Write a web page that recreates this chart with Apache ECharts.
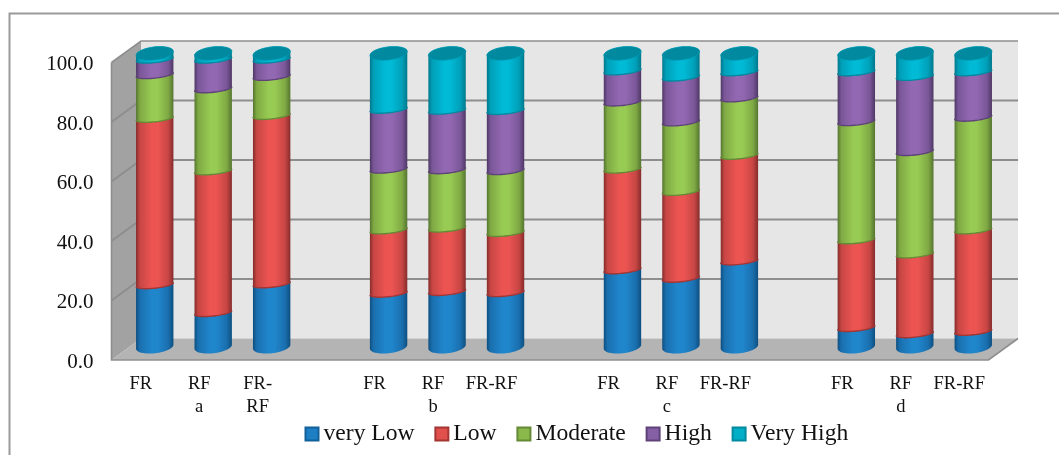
<!DOCTYPE html>
<html><head><meta charset="utf-8">
<style>html,body{margin:0;padding:0;background:#fff}#c{width:1059px;height:455px}</style>
<script src="https://cdn.jsdelivr.net/npm/echarts@6/dist/echarts.min.js"></script>
</head><body><div id="c"></div>
<script>
const categories = ['FR','RF\na','FR-\nRF','','FR','RF\nb','FR-RF','','FR','RF\nc','FR-RF','','FR','RF\nd','FR-RF'];
const veryLow  = [22.2,12.7,22.5,null,19.3,19.9,19.5,null,27.3,24.4,30.3,null,7.6,5.5,6.3];
const low      = [56.7,48.3,57.4,null,21.6,21.6,20.5,null,34.3,29.6,36.0,null,29.9,27.2,34.6];
const moderate = [14.9,28.0,13.3,null,20.7,19.9,21.1,null,22.9,23.7,19.6,null,40.3,34.9,38.4];
const high     = [5.3,10.1,5.9,null,20.4,20.3,20.5,null,10.6,15.3,8.9,null,17.0,25.6,15.5];
const veryHigh = [0.9,0.9,0.9,null,18.0,18.3,18.4,null,4.9,7.0,5.2,null,5.2,6.8,5.2];
const yTicks = [0,20,40,60,80,100];

const layers = [
  {name:'very Low', values:veryLow,  base:'#1f7fc4', light:'#2086cc', mid:'#1a6fae', edge:'#0d4f80', line:'#12609a'},
  {name:'Low',      values:low,      base:'#e2504e', light:'#ec5452', mid:'#c74644', edge:'#852c2b', line:'#a33533'},
  {name:'Moderate', values:moderate, base:'#8ab84a', light:'#98cb53', mid:'#7fa944', edge:'#55752f', line:'#648a36'},
  {name:'High',     values:high,     base:'#8560a5', light:'#9368b3', mid:'#7a5798', edge:'#4f3766', line:'#5e4279'},
  {name:'Very High',values:veryHigh, base:'#00aec8', light:'#00bad6', mid:'#009fb8', edge:'#00788c', line:'#008aa0'}
];

const DEPTH_X = 29.5, DEPTH_Y = 21.5;
const BAR_DX = 14, BAR_DY = 13.3, BAR_SCALE = 0.986;
const RX = 18.7, RY = 6.6, RY_INNER = 3.6, TILT = 2;

function stackAt(layerIdx, i){
  let s = 0;
  for(let k=0;k<layerIdx;k++) s += layers[k].values[i] || 0;
  return s;
}
function arc(cx,cy,ry,from,to,n){
  const pts=[];
  for(let j=0;j<=n;j++){
    const t=from+(to-from)*j/n;
    pts.push([cx+RX*Math.cos(t), cy+ry*Math.sin(t)-TILT*Math.cos(t)]);
  }
  return pts;
}
function barRender(layerIdx){
  const L = layers[layerIdx];
  const isTop = layerIdx===layers.length-1, isBase = layerIdx===0;
  return function(params, api){
    const i = api.value(0), v = L.values[i];
    if(v==null) return null;
    const y0 = api.coord([i,0])[1];
    const mapY = function(val){ return y0 + (api.coord([i,val])[1]-y0)*BAR_SCALE - BAR_DY; };
    const s = stackAt(layerIdx,i);
    const cx = api.coord([i,0])[0] + BAR_DX;
    const yB = mapY(s), yT = mapY(s+v);
    const ryB = isBase ? RY : RY_INNER, ryT = isTop ? RY : RY_INNER;
    const front = arc(cx,yB+RY-ryB,ryB,Math.PI,0,28);
    const back  = arc(cx,yT+RY-ryT,ryT,0,-Math.PI,28);
    const grad = new echarts.graphic.LinearGradient(0,0,1,0,[
      {offset:0,color:L.edge},{offset:.1,color:L.mid},{offset:.42,color:L.light},
      {offset:.58,color:L.light},{offset:.86,color:L.mid},{offset:1,color:L.edge}]);
    const children = [{type:'polygon',shape:{points:front.concat(back)},style:{fill:grad}}];
    if(!isBase) children.push({type:'polyline',shape:{points:front},style:{fill:null,stroke:L.line,lineWidth:1.4}});
    if(isTop) children.push({type:'polygon',shape:{points:arc(cx,yT,RY,0,2*Math.PI,56)},style:{fill:'#00899f',stroke:'#009db4',lineWidth:0.6}});
    return {type:'group',children:children};
  };
}
function wallRender(params, api){
  const c = params.coordSys, x0=c.x, x1=c.x+c.width;
  const yf0 = api.coord([0,0])[1], yf1 = api.coord([0,100])[1];
  const bx0=x0+DEPTH_X, bx1=x1+DEPTH_X;
  const children = [
    {type:'polygon',shape:{points:[[bx0,yf1-DEPTH_Y],[bx1,yf1-DEPTH_Y],[bx1,yf0-DEPTH_Y],[bx0,yf0-DEPTH_Y]]},style:{fill:'#e6e6e6'}},
    {type:'polygon',shape:{points:[[x0,yf1],[bx0,yf1-DEPTH_Y],[bx0,yf0-DEPTH_Y],[x0,yf0]]},style:{fill:'#a2a2a2'}},
    {type:'polygon',shape:{points:[[x0,yf0],[bx0,yf0-DEPTH_Y],[bx1,yf0-DEPTH_Y],[x1,yf0]]},style:{fill:'#b4b4b4'}}
  ];
  yTicks.forEach(function(t){
    const y = api.coord([0,t])[1];
    if(t>0) children.push({type:'polyline',shape:{points:[[x0,y],[bx0,y-DEPTH_Y],[bx1,y-DEPTH_Y]]},style:{fill:null,stroke:'#8e8e8e',lineWidth:t===100?1.6:2}});
  });
  children.push({type:'polyline',shape:{points:[[x0,yf1],[x0,yf0],[x1,yf0],[bx1,yf0-DEPTH_Y]]},style:{fill:null,stroke:'#8e8e8e',lineWidth:1.6}});
  return {type:'group',children:children};
}

const serif = '"Liberation Serif","Times New Roman",serif';
const series = [{type:'custom',name:'wall',silent:true,z:1,renderItem:wallRender,data:[[0,0]],tooltip:{show:false}}];
layers.forEach(function(L,k){
  series.push({
    type:'custom',name:L.name,z:2+k,renderItem:barRender(k),
    itemStyle:{color:L.base,borderColor:L.line,borderWidth:1.5},
    data:categories.map(function(_,i){return [i,L.values[i]];}),
    encode:{x:0,y:1}
  });
});

const chart = echarts.init(document.getElementById('c'),null,{renderer:'canvas'});
chart.setOption({
  animation:false,
  backgroundColor:'#fff',
  textStyle:{fontFamily:serif},
  graphic:[{type:'polyline',silent:true,z:0,shape:{points:[[9.5,455],[9.5,13.5],[1059,13.5]]},style:{fill:null,stroke:'#9a9a9a',lineWidth:2}}],
  grid:{left:111.5,top:62.5,width:877,height:297.5,containLabel:false},
  legend:{
    left:299.5,top:417,itemWidth:13,itemHeight:13,itemGap:19.8,icon:'rect',
    data:layers.map(function(l){return l.name;}),
    textStyle:{fontFamily:serif,fontSize:23.6,color:'#111'}
  },
  xAxis:{type:'category',data:categories,
    axisLine:{show:false},axisTick:{show:false},splitLine:{show:false},
    axisLabel:{interval:0,margin:13,fontFamily:serif,fontSize:18.5,lineHeight:23,color:'#111',hideOverlap:false}},
  yAxis:{type:'value',min:0,max:100,interval:20,
    axisLine:{show:false},axisTick:{show:false},splitLine:{show:false},
    axisLabel:{margin:18,verticalAlign:'top',lineHeight:4,fontFamily:serif,fontSize:21,color:'#111',formatter:function(v){return v.toFixed(1);}}},
  series:series
});
</script></body></html>
